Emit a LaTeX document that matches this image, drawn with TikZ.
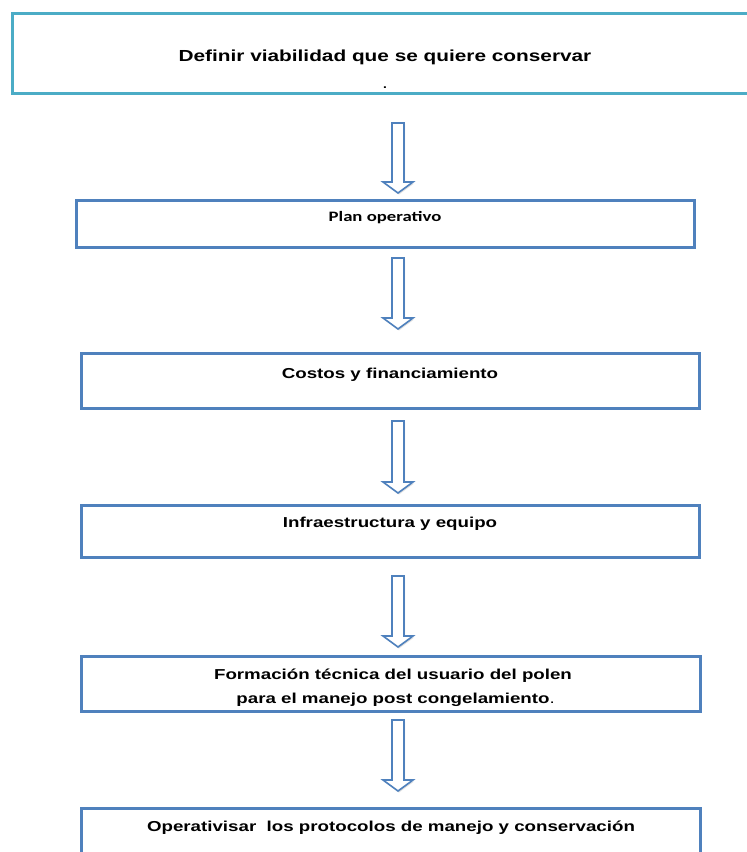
\documentclass[tikz,border=0pt]{standalone}
\usepackage{fontspec}
\setmainfont{Liberation Sans}
\newfontfamily\arialx[FakeStretch=1.3]{Liberation Sans}
\newfontfamily\calx[FakeStretch=1.3]{Carlito}
\usetikzlibrary{calc,shadows}
\definecolor{tealline}{HTML}{4BACC6}
\definecolor{blueline}{HTML}{4F81BD}
\newcommand\blockarr[2]{%
  \path[blk] let \p1=(#1), \p2=(#2) in
    ({\x1-6pt},\y1) -- ({\x1+6pt},\y1) -- ({\x1+6pt},{\y2+11pt}) --
    ({\x1+15pt},{\y2+11pt}) -- (\x2,\y2) -- ({\x1-15pt},{\y2+11pt}) --
    ({\x1-6pt},{\y2+11pt}) -- cycle;}
\begin{document}
\begin{tikzpicture}[x=1pt,y=-1pt,
  box/.style={draw=blueline,line width=3pt,fill=white,inner sep=0pt,outer sep=0pt},
  topbox/.style={box,draw=tealline},
  lbl/.style={font=\arialx\bfseries\fontsize{14.4}{24}\selectfont,inner sep=0pt,align=center,anchor=base},
  toplbl/.style={lbl,font=\arialx\bfseries\fontsize{16}{18}\selectfont},
  callbl/.style={lbl,font=\calx\bfseries\fontsize{14.4}{16}\selectfont},
  blk/.style={draw=blueline,line width=1.6pt,fill=white,line join=miter,
    drop shadow={opacity=0.25,shadow xshift=1pt,shadow yshift=-1.5pt}}]
\clip (0,0) rectangle (747,852);
\fill[white] (0,0) rectangle (747,852);

% boxes
\node[topbox,minimum width=758pt,minimum height=80pt] (b1) at (391,53) {};
\node[box,minimum width=618pt,minimum height=47pt] (b2) at (385,223.5) {};
\node[box,minimum width=618pt,minimum height=55pt] (b3) at (390,380.5) {};
\node[box,minimum width=618pt,minimum height=52pt] (b4) at (390,531) {};
\node[box,minimum width=619pt,minimum height=55pt] (b5) at (390.5,683.5) {};
\node[box,minimum width=619pt,minimum height=62pt] (b6) at (390.5,839) {};

% texts
\node[toplbl] (t1) at (385,61) {Definir viabilidad que se quiere conservar};
\node[lbl,font=\arialx\fontsize{16}{18}\selectfont] (t1dot) at (385,88) {.};
\node[callbl] (t2) at (385,221) {Plan operativo};
\node[lbl] (t3) at (390,378) {Costos y financiamiento};
\node[lbl] (t4) at (390,527) {Infraestructura y equipo};
\node[lbl] (t5) at (393,703) {Formación técnica del usuario del polen\\
  \ para el manejo post congelamiento{\mdseries .}};
\node[lbl] (t6) at (391,831) {Operativisar\ \ los protocolos de manejo y conservación};

% arrow end points
\coordinate (a1s) at (398,123); \coordinate (a1e) at (398,193);
\coordinate (a2s) at (398,258); \coordinate (a2e) at (398,329);
\coordinate (a3s) at (398,421); \coordinate (a3e) at (398,493);
\coordinate (a4s) at (398,576); \coordinate (a4e) at (398,647);
\coordinate (a5s) at (398,720); \coordinate (a5e) at (398,791);

\blockarr{a1s}{a1e}
\blockarr{a2s}{a2e}
\blockarr{a3s}{a3e}
\blockarr{a4s}{a4e}
\blockarr{a5s}{a5e}
\end{tikzpicture}
\end{document}
